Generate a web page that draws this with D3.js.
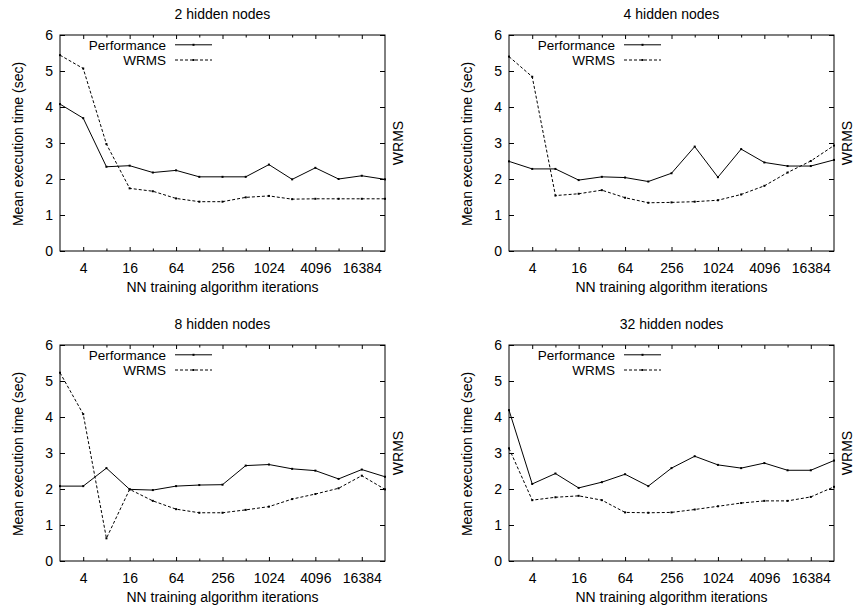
<!DOCTYPE html>
<html>
<head>
<meta charset="utf-8">
<script src="https://cdn.jsdelivr.net/npm/d3@7"></script>
<style>
  html, body { margin: 0; padding: 0; background: #fff; }
  svg { display: block; }
  text { font-family: "Liberation Sans", Arial, Helvetica, sans-serif; fill: #000; }
</style>
</head>
<body>
<svg id="chart" width="854" height="609"></svg>
<script>
// Training iterations (powers of two, 2^1 .. 2^15)
const iterations = [2, 4, 8, 16, 32, 64, 128, 256, 512, 1024, 2048, 4096, 8192, 16384, 32768];
const xTickLabels = [4, 16, 64, 256, 1024, 4096, 16384];
const xMinorTicks = [8, 32, 128, 512, 2048, 8192];
const yTicks = [0, 1, 2, 3, 4, 5, 6];

const panelTitles = ["2 hidden nodes", "4 hidden nodes", "8 hidden nodes", "32 hidden nodes"];
const seriesNames = ["Performance", "WRMS"];

// Mean execution time (sec) per panel
const perf2  = [4.08, 3.69, 2.34, 2.37, 2.18, 2.24, 2.06, 2.06, 2.06, 2.40, 1.99, 2.31, 2.00, 2.09, 1.99];
const wrms2  = [5.44, 5.07, 2.97, 1.74, 1.66, 1.46, 1.37, 1.37, 1.49, 1.53, 1.44, 1.45, 1.45, 1.45, 1.45];
const perf4  = [2.49, 2.28, 2.28, 1.97, 2.06, 2.04, 1.93, 2.16, 2.90, 2.05, 2.83, 2.46, 2.36, 2.36, 2.53];
const wrms4  = [5.40, 4.84, 1.54, 1.59, 1.69, 1.48, 1.34, 1.35, 1.37, 1.41, 1.57, 1.81, 2.18, 2.50, 2.93];
const perf8  = [2.08, 2.08, 2.58, 1.99, 1.97, 2.08, 2.11, 2.12, 2.65, 2.68, 2.56, 2.51, 2.28, 2.54, 2.34];
const wrms8  = [5.23, 4.08, 0.63, 1.99, 1.67, 1.44, 1.34, 1.34, 1.42, 1.51, 1.72, 1.86, 2.02, 2.37, 1.99];
const perf32 = [4.19, 2.14, 2.43, 2.03, 2.19, 2.41, 2.08, 2.58, 2.91, 2.67, 2.58, 2.72, 2.52, 2.52, 2.79];
const wrms32 = [3.13, 1.69, 1.77, 1.81, 1.69, 1.35, 1.34, 1.35, 1.43, 1.52, 1.61, 1.67, 1.67, 1.78, 2.06];

const panelSeries = [[perf2, wrms2], [perf4, wrms4], [perf8, wrms8], [perf32, wrms32]];

// Layout
const plotW = 325, plotH = 216;
const origins = [[60, 35], [509, 35], [60, 345], [509, 345]];
const dashes = [null, "3,2"];
const fontSize = 14;
const legendFont = 13.5;

const svg = d3.select("#chart");

const x = d3.scaleLog().base(2).domain([2, 32768]).range([0, plotW]);
const y = d3.scaleLinear().domain([0, 6]).range([plotH, 0]);

panelSeries.forEach((series, i) => {
  const g = svg.append("g").attr("transform", `translate(${origins[i][0]},${origins[i][1]})`);

  // Axes with inward ticks, mirrored on top and right
  g.append("g").attr("transform", `translate(0,${plotH})`)
    .call(d3.axisBottom(x).tickValues(xTickLabels).tickFormat(d3.format("d")).tickSize(-4).tickPadding(12));
  g.append("g").attr("transform", `translate(0,${plotH})`)
    .call(d3.axisBottom(x).tickValues(xMinorTicks).tickFormat("").tickSize(-2.5));
  g.append("g").call(d3.axisTop(x).tickValues(xTickLabels).tickFormat("").tickSize(-4));
  g.append("g").call(d3.axisTop(x).tickValues(xMinorTicks).tickFormat("").tickSize(-2.5));
  g.append("g").call(d3.axisLeft(y).tickValues(yTicks).tickFormat(d3.format("d")).tickSize(-5).tickPadding(7));
  g.append("g").attr("transform", `translate(${plotW},0)`)
    .call(d3.axisRight(y).tickValues(yTicks).tickFormat("").tickSize(-5));

  g.selectAll(".domain").remove();
  g.selectAll(".tick line").attr("stroke", "#000").attr("stroke-width", 1);
  g.selectAll(".tick text").attr("font-size", fontSize).attr("font-family", "Liberation Sans, Arial, sans-serif").attr("fill", "#000");

  // Border
  g.append("rect").attr("x", 0).attr("y", 0).attr("width", plotW).attr("height", plotH)
    .attr("fill", "none").attr("stroke", "#000").attr("stroke-width", 1);

  // Series lines with small point markers
  const line = d3.line().x((d, k) => x(iterations[k])).y(d => y(d));
  series.forEach((vals, s) => {
    g.append("path").datum(vals)
      .attr("d", line)
      .attr("fill", "none").attr("stroke", "#000").attr("stroke-width", 1)
      .attr("stroke-dasharray", dashes[s]);
    g.selectAll(null).data(vals).enter().append("rect")
      .attr("x", (d, k) => x(iterations[k]) - 1)
      .attr("y", d => y(d) - 1)
      .attr("width", 2).attr("height", 2).attr("fill", "#000");
  });

  // Legend
  seriesNames.forEach((name, s) => {
    const ly = 9.8 + s * 15.2;
    g.append("text").attr("x", 106).attr("y", ly + 5)
      .attr("text-anchor", "end").attr("font-size", legendFont).text(name);
    g.append("line").attr("x1", 115).attr("x2", 152).attr("y1", ly).attr("y2", ly)
      .attr("stroke", "#000").attr("stroke-width", 1).attr("stroke-dasharray", dashes[s]);
    g.append("rect").attr("x", 132.5).attr("y", ly - 1).attr("width", 2).attr("height", 2).attr("fill", "#000");
  });

  // Titles and axis labels
  g.append("text").attr("x", plotW / 2).attr("y", -16).attr("text-anchor", "middle")
    .attr("font-size", fontSize).text(panelTitles[i]);
  g.append("text").attr("x", plotW / 2).attr("y", plotH + 41).attr("text-anchor", "middle")
    .attr("font-size", fontSize).text("NN training algorithm iterations");
  g.append("text").attr("transform", `translate(-37.5,${plotH / 2 + 1}) rotate(-90)`)
    .attr("text-anchor", "middle").attr("font-size", fontSize).text("Mean execution time (sec)");
  g.append("text").attr("transform", `translate(${plotW + 17.5},${plotH / 2}) rotate(-90)`)
    .attr("text-anchor", "middle").attr("font-size", fontSize).text("WRMS");
});
</script>
</body>
</html>
